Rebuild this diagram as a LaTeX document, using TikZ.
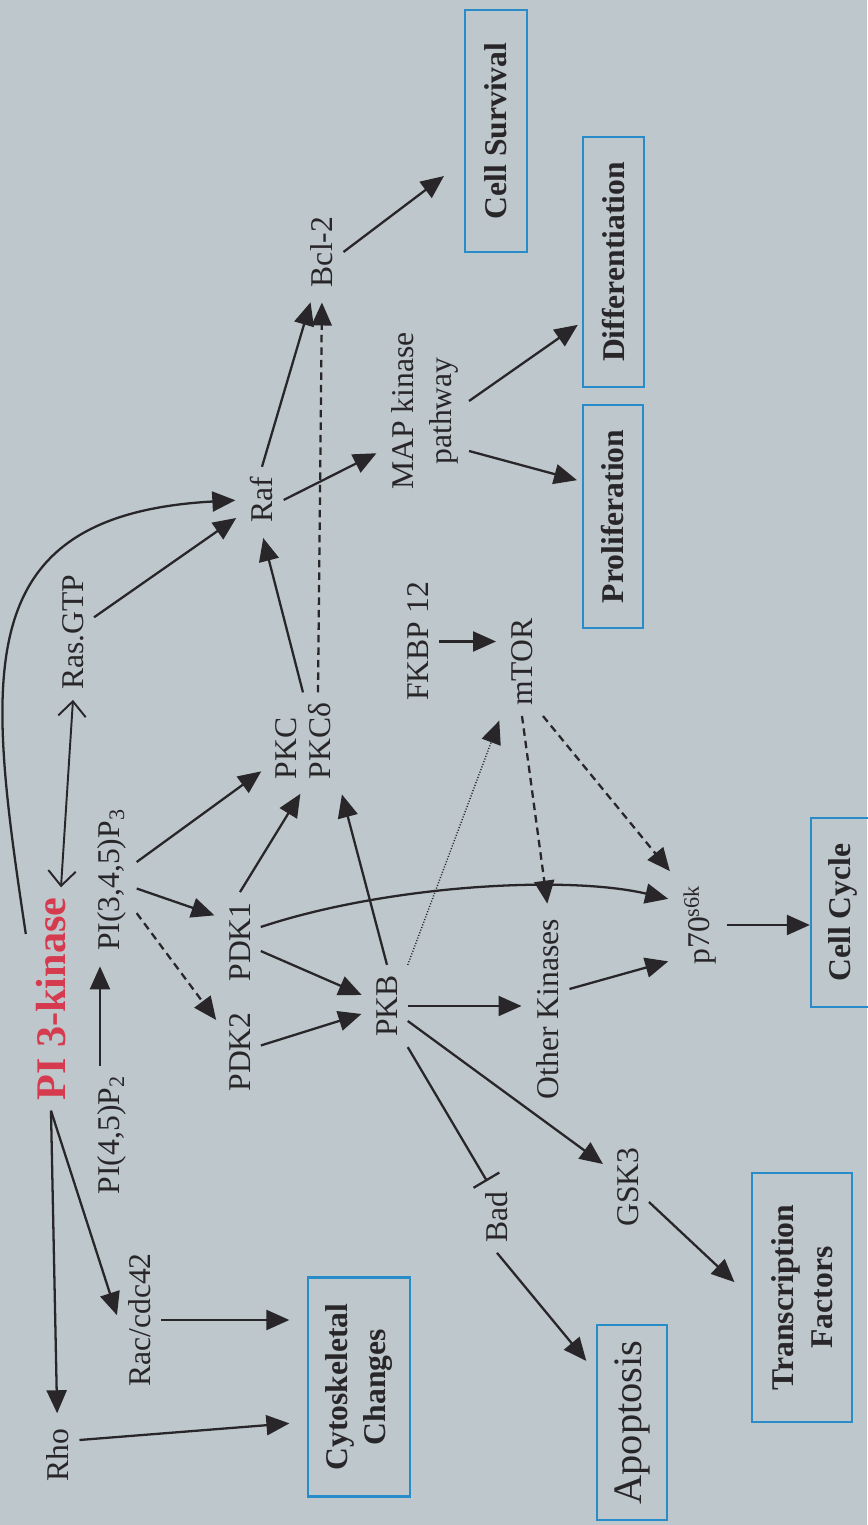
\documentclass[tikz,border=0pt]{standalone}
\usepackage{fontspec}
\setmainfont{Liberation Serif}
\usetikzlibrary{arrows.meta}

\definecolor{bg}{RGB}{190,199,204}
\definecolor{ink}{RGB}{40,38,40}
\definecolor{boxblue}{RGB}{40,140,200}
\definecolor{pired}{RGB}{214,58,78}

\begin{document}
\begin{tikzpicture}[rotate=90, transform shape]
		\tikzstyle{Lbl}		= [inner sep=2mm, text=ink, font=\fontsize{18}{21}\selectfont]
		\tikzstyle{Key}		= [inner sep=2mm, text=pired, font=\bfseries\fontsize{24}{28}\selectfont]
		\tikzstyle{Outcome}	= [draw=boxblue, line width=0.45mm, inner sep=0pt, text=ink, align=center, font=\bfseries\fontsize{18}{22}\selectfont]
		\tikzstyle{Act}		= [-{Triangle[length=4.6mm, width=4mm]}, draw=ink, line width=1.3pt, shorten >=1mm]
		\tikzstyle{Weak}	= [Act, dash pattern=on 1.5mm off 1mm]
		\tikzstyle{Dot}		= [Act, line width=0.8pt, dash pattern=on 0.6pt off 1pt]
		\tikzstyle{Inhib}	= [-{Bar[width=6mm]}, draw=ink, line width=1.3pt]
		\tikzstyle{Bind}	= [{Straight Barb[length=3mm, width=5.5mm]}-{Straight Barb[length=3mm, width=5.5mm]}, draw=ink, line width=1.1pt]

		\fill [bg] (0,0) rectangle (30.5,17.34);
		\useasboundingbox (0,0) rectangle (30.5,17.34);

		\node (pik) at (10.52, 16.32) [Key] {PI 3-kinase};
		\node (ras) at (17.86, 15.88) [Lbl] {Ras.GTP};
		\node (pip2) at (7.80, 15.10) [Lbl] {PI(4,5)P\textsubscript{2}};
		\node (pip3) at (12.90, 15.10) [Lbl] {PI(3,4,5)P\textsubscript{3}};
		\node (rho) at (1.40, 16.18) [Lbl] {Rho};
		\node (rac) at (4.10, 14.54) [Lbl] {Rac/cdc42};
		\node (pdk2) at (9.46, 12.54) [Lbl] {PDK2};
		\node (pdk1) at (11.66, 12.54) [Lbl] {PDK1};
		\node (pkc) at (15.68, 11.28) [Lbl, align=left, font=\fontsize{18}{19}\selectfont] {PKC\\PKCδ};
		\node (raf) at (20.50, 12.10) [Lbl] {Raf};
		\node (bcl) at (25.46, 10.90) [Lbl] {Bcl-2};
		\node (map) at (22.28, 8.84) [Lbl, align=center, font=\fontsize{18}{22}\selectfont] {MAP kinase\\pathway};
		\node (fkbp) at (17.67, 8.98) [Lbl] {FKBP 12};
		\node (mtor) at (17.26, 6.90) [Lbl] {mTOR};
		\node (pkb) at (10.38, 9.60) [Lbl] {PKB};
		\node (ok) at (10.32, 6.38) [Lbl] {Other Kinases};
		\node (p70) at (12.00, 3.34) [Lbl] {p70\textsuperscript{s6k}};
		\node (bad) at (6.16, 7.40) [Lbl] {Bad};
		\node (gsk) at (6.76, 4.78) [Lbl] {GSK3};

		\node (survival) at (27.88, 7.42) [Outcome, minimum width=4.84cm, minimum height=1.24cm] {Cell Survival};
		\node (diff) at (25.26, 5.07) [Outcome, minimum width=5.0cm, minimum height=1.22cm] {Differentiation};
		\node (prolif) at (20.17, 5.08) [Outcome, minimum width=4.46cm, minimum height=1.2cm] {Proliferation};
		\node (cycle) at (12.25, 0.48) [Outcome, minimum width=3.78cm, minimum height=1.28cm] {Cell Cycle};
		\node (tf) at (4.55, 1.30) [Outcome, minimum width=4.98cm, minimum height=2.0cm] {Transcription\\Factors};
		\node (apop) at (2.05, 4.70) [Outcome, minimum width=3.9cm, minimum height=1.4cm, font=\fontsize{23}{26}\selectfont] {Apoptosis};
		\node (cyto) at (2.76, 10.16) [Outcome, minimum width=4.38cm, minimum height=2.04cm] {Cytoskeletal\\Changes};

		\draw [Act] (pik.west) to (rho);
		\draw [Act] (pik.west) to (rac.north);
		\draw [Bind] ([yshift=-2mm]pik.east) to (ras.west);
		\draw [Act] ([xshift=1.3cm]pik.north) .. controls (17.0,17.6) and (20.2,18.0) .. (raf.north);
		\draw [Act] ([yshift=2.4mm]pip2.east) to ([yshift=2.4mm]pip3.west);
		\draw [Act] (ras) to (raf);
		\draw [Act] (pip3) to (pkc);
		\draw [Act] (pip3) to ([xshift=5mm]pdk1.north);
		\draw [Weak] (pip3) to (pdk2);
		\draw [Act] (pdk2) to (pkb);
		\draw [Act] (pdk1.east) to (pkc.west);
		\draw [Act] (pdk1) to (pkb);
		\draw [Act] ([xshift=3mm]pdk1.south) .. controls (12.8,9.6) and (13.0,6.0) .. ([xshift=5mm]p70.north);
		\draw [Act] (pkb.east) to (pkc.south west);
		\draw [Act] (pkc.east) to (raf.west);
		\draw [Weak] ([yshift=-3mm]pkc.east) to (bcl.west);
		\draw [Act] (raf.east) to ([yshift=2mm]bcl.west);
		\draw [Act] (raf.south) to ([xshift=-8mm]map.north);
		\draw [Act, shorten >=5mm] (bcl.south) to ([xshift=-6mm]survival.north);
		\draw [Act] ([xshift=2mm]map.south) to ([xshift=-12mm]diff.north);
		\draw [Act] ([xshift=-8mm]map.south) to ([xshift=7mm]prolif.north);
		\draw [Act] (fkbp.south) to (fkbp.south |- mtor.north);
		\draw [Dot] (pkb.south east) to (mtor.north west);
		\draw [Weak] (mtor.west) to (ok.east);
		\draw [Weak] (mtor.south west) to (p70.north east);
		\draw [Act] (pkb.south) to (pkb.south |- ok.north);
		\draw [Act] ([xshift=4mm]ok.south) to ([xshift=-7mm]p70.north);
		\draw [Act, shorten >=0mm] (p70.south) to (p70.south |- cycle.north);
		\draw [Inhib] (pkb.south west) to ([yshift=2mm]bad.east);
		\draw [Act, shorten >=3mm] (bad.west) to ([xshift=1cm]apop.north);
		\draw [Act] ([xshift=-3mm]pkb.south) to ([xshift=4mm]gsk.north);
		\draw [Act, shorten >=4.5mm] ([xshift=-3mm]gsk.south) to (tf.north);
		\draw [Act, shorten >=3.5mm] ([xshift=3mm]rho.south) to ([xshift=-7mm]cyto.north);
		\draw [Act, shorten >=3.5mm] (rac.south) to (rac.south |- cyto.north);
	\end{tikzpicture}
\end{document}
